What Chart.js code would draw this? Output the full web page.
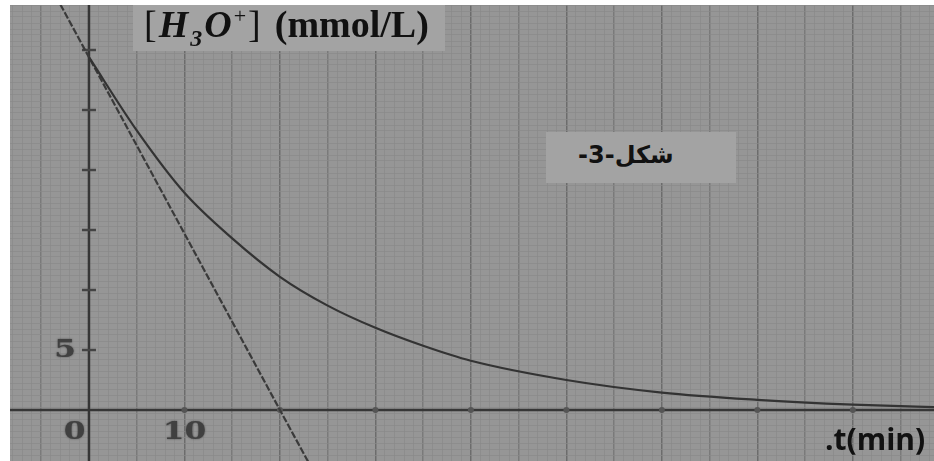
<!DOCTYPE html>
<html>
<head>
<meta charset="utf-8">
<script src="https://cdn.jsdelivr.net/npm/chart.js@4.4.1/dist/chart.umd.min.js"></script>
<style>
    html, body { margin: 0; padding: 0; background: #fff; }
    body { width: 934px; height: 461px; position: relative; overflow: hidden; }
    #wrap { position: absolute; left: 10px; top: 5px; width: 924px; height: 456px; background: #969696; }
    .box { position: absolute; background: #a3a3a3; }
    .lbl { position: absolute; white-space: nowrap; color: #111; }
    #titre { left: 144px; top: 2px; font-family: "Liberation Serif", serif; font-weight: bold; font-size: 38px; }
    #titre .cro { font-weight: normal; }
    #titre .ion { letter-spacing: 2px; }
    #titre .unite { margin-left: 12px; }
    #titre i sub { font-size: 24px; }
    #titre i sup { font-size: 22px; font-style: normal; font-weight: normal; }
    #shakl { left: 578px; top: 141px; font-family: "DejaVu Sans", sans-serif; font-weight: bold; font-size: 24px; direction: rtl; }
    #axe { left: 825px; top: 418px; font-family: "Open Sans", sans-serif; font-weight: bold; font-size: 30px; }
</style>
</head>
<body>
<div id="wrap">
    <canvas id="courbe"></canvas>
</div>
<div class="box" style="left:133px; top:5px; width:312px; height:46px;"></div>
<div class="box" style="left:546px; top:132px; width:190px; height:51px;"></div>
<div class="lbl" id="titre"><span class="ion"><span class="cro">[</span><i>H<sub>3</sub>O<sup>+</sup></i><span class="cro">]</span></span><span class="unite">(mmol/L)</span></div>
<div class="lbl" id="shakl">شكل-3-</div>
<div class="lbl" id="axe">.t(min)</div>
<script>
// valeurs
const temps = [0, 5, 10, 15, 20, 25, 30, 35, 40, 50, 60, 70, 80, 90];
const concentration = [29.4, 23.3, 18.1, 14.3, 11.1, 8.7, 6.85, 5.35, 4.1, 2.5, 1.45, 0.85, 0.45, 0.2];

// tangente a t = 0
const tangenteT = [-3, 0, 20, 23.5];
const tangenteC = [33.8, 29.4, 0, -5.1];

// graduations des axes
const gradY = [5, 10, 15, 20, 25, 30];
const gradX = [10, 20, 30, 40, 50, 60, 70, 80];
const etiquettes = [
    { t: -1.5, c: -1.85, txt: "0" },
    { t: 10, c: -1.85, txt: "10" },
    { t: -2.5, c: 5, txt: "5" },
];

const points = (xs, ys) => xs.map((x, i) => ({ x: x, y: ys[i] }));

const axesEtTextes = {
    id: "axesEtTextes",
    beforeDatasetsDraw(chart) {
        const ctx = chart.ctx;
        const x0 = chart.scales.x.getPixelForValue(0);
        const y0 = chart.scales.y.getPixelForValue(0);
        const a = chart.chartArea;
        ctx.save();
        ctx.strokeStyle = "#363636";
        ctx.lineWidth = 2.5;
        ctx.beginPath();
        ctx.moveTo(x0, a.top);
        ctx.lineTo(x0, a.bottom);
        ctx.moveTo(a.left, y0);
        ctx.lineTo(a.right, y0);
        ctx.stroke();
        ctx.restore();
    },
    afterDraw(chart) {
        const ctx = chart.ctx;
        etiquettes.forEach(function (e) {
            ctx.save();
            ctx.translate(chart.scales.x.getPixelForValue(e.t), chart.scales.y.getPixelForValue(e.c));
            ctx.scale(1.25, 1);
            ctx.font = "bold 25px 'DejaVu Serif', serif";
            ctx.fillStyle = "#404040";
            ctx.textAlign = "center";
            ctx.textBaseline = "middle";
            ctx.shadowColor = "rgba(40,40,40,0.7)";
            ctx.shadowBlur = 2;
            ctx.fillText(e.txt, 0, 0);
            ctx.restore();
        });
    },
};

function couleurGrille(v, pas) {
    if (v % (pas * 2) === 0) return "#6c6c6c";
    if (v % pas === 0) return "#7a7a7a";
    return "#8a8a8a";
}

new Chart(document.getElementById("courbe"), {
    type: "line",
    data: {
        datasets: [
            {
                label: "[H3O+]",
                data: points(temps, concentration),
                borderColor: "#333",
                borderWidth: 2.2,
                pointRadius: 0,
                cubicInterpolationMode: "monotone",
            },
            {
                label: "tangente",
                data: points(tangenteT, tangenteC),
                borderColor: "#3a3a3a",
                borderWidth: 2.2,
                borderDash: [7, 2],
                pointRadius: 0,
            },
            {
                label: "gradY",
                data: gradY.map((c) => ({ x: 0, y: c })),
                showLine: false,
                pointStyle: "line",
                pointRadius: 7,
                pointBorderWidth: 2.5,
                pointBorderColor: "#444",
            },
            {
                label: "gradX",
                data: gradX.map((t) => ({ x: t, y: 0 })),
                showLine: false,
                pointStyle: "circle",
                pointRadius: 3,
                pointBackgroundColor: "#555",
                pointBorderWidth: 0,
            },
        ],
    },
    options: {
        responsive: true,
        maintainAspectRatio: false,
        animation: false,
        layout: { padding: 0, autoPadding: false },
        scales: {
            x: {
                type: "linear",
                min: -8.27,
                max: 88.5,
                border: { display: false },
                grid: {
                    drawTicks: false,
                    color: (ctx) => couleurGrille(ctx.tick.value, 5),
                    lineWidth: (ctx) => (ctx.tick.value % 5 === 0 ? 1.5 : 0.8),
                },
                ticks: { display: false, stepSize: 1, autoSkip: false, includeBounds: false },
            },
            y: {
                min: -4.25,
                max: 33.75,
                border: { display: false },
                grid: {
                    drawTicks: false,
                    color: (ctx) => couleurGrille(ctx.tick.value, 2.5),
                    lineWidth: (ctx) => (ctx.tick.value % 2.5 === 0 ? 1.5 : 0.7),
                },
                ticks: { display: false, stepSize: 0.5, autoSkip: false, includeBounds: false },
            },
        },
        plugins: {
            legend: { display: false },
            tooltip: { enabled: false },
        },
    },
    plugins: [axesEtTextes],
});
</script>
</body>
</html>
